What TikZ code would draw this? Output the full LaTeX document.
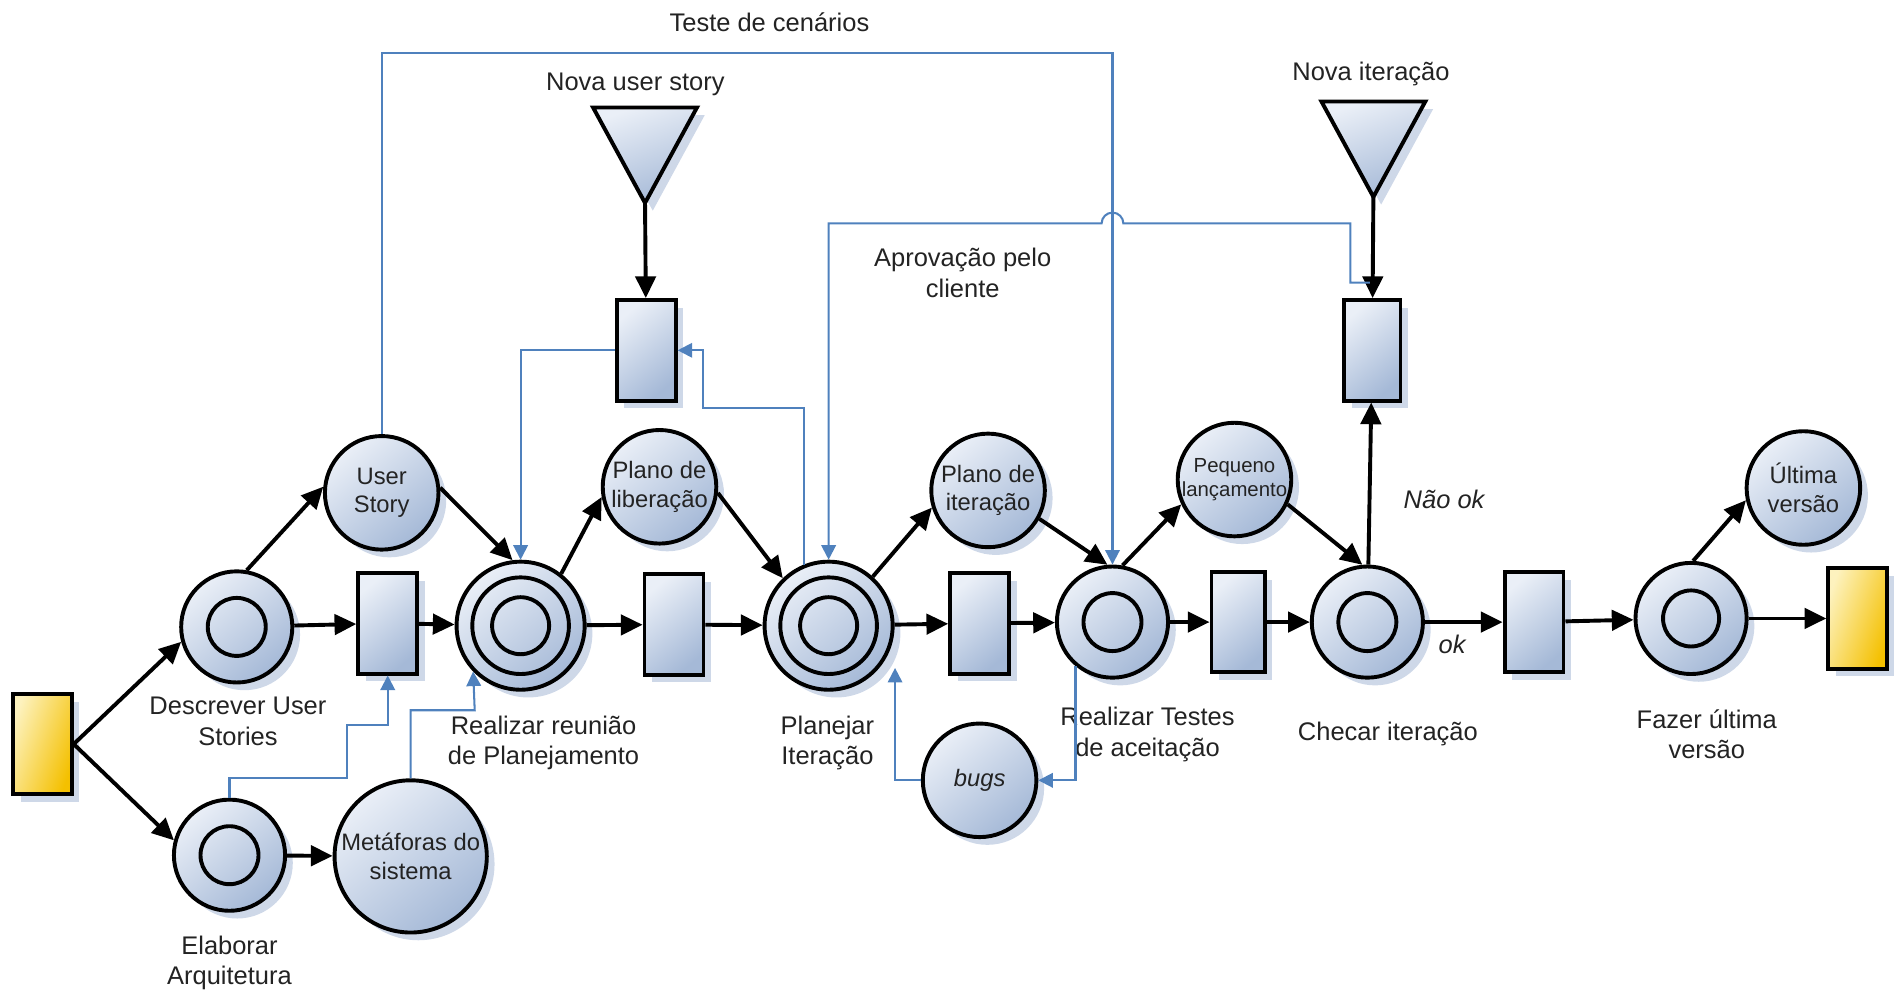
\documentclass[tikz,border=0pt]{standalone}
\usepackage{fontspec}
\setmainfont{Liberation Sans}
\usepackage{tikz}
\usetikzlibrary{arrows.meta,shadows}

\definecolor{lugartopo}{RGB}{234,239,247}
\definecolor{lugarbase}{RGB}{165,185,215}
\definecolor{sombraazul}{RGB}{206,216,232}
\definecolor{azulfluxo}{RGB}{79,129,189}
\definecolor{ourotopo}{RGB}{253,242,190}
\definecolor{ourobase}{RGB}{244,192,0}
\definecolor{textocinza}{RGB}{35,35,35}

\tikzset{
  every node/.style={font=\fontsize{15}{18}\selectfont, text=textocinza},
  sombra/.style={drop shadow={shadow xshift=0.16cm, shadow yshift=-0.16cm, fill=sombraazul, opacity=1}},
  lugar/.style={circle, draw=black, line width=2.3pt, minimum size=2.35cm, inner sep=-0.2cm, align=center,
    font=\fontsize{14}{17}\selectfont, top color=lugartopo, bottom color=lugarbase, shading angle=40, sombra},
  duplo/.style={lugar, minimum size=2.3cm},
  triplo/.style={lugar, minimum size=2.65cm},
  transicao/.style={rectangle, draw=black, line width=2.3pt, minimum width=1.22cm, minimum height=2.08cm,
    inner sep=0pt, top color=lugartopo, bottom color=lugarbase, shading angle=40, sombra},
  ficha/.style={transicao, top color=ourotopo, bottom color=ourobase, shading angle=70},
  gatilho/.style={draw=black, line width=2.3pt, top color=lugartopo, bottom color=lugarbase, shading angle=20, sombra},
  anel/.style={draw=black, line width=2.3pt},
  seta/.style={black, line width=2.3pt, -{Triangle[length=0.45cm,width=0.42cm]}},
  fluxo/.style={draw=azulfluxo, line width=1.2pt, -{Triangle[length=0.3cm,width=0.3cm]}},
  rotulo/.style={align=center},
  italico/.style={font=\fontsize{15}{18}\selectfont\itshape},
}

\begin{document}
\begin{tikzpicture}[x=0.025cm,y=-0.025cm]
\useasboundingbox (0,0) rectangle (1568,823);

% lugares e transicoes
\draw (35,616) node[ficha] (inicio) {};
\draw (196,519) node[duplo] (descrever) {};
\draw (190,708) node[duplo] (elaborar) {};
\draw (316,408) node[lugar] (userstory) {User\\Story};
\draw (340,709) node[lugar,minimum size=3.15cm] (metaforas) {Metáforas do\\sistema};
\draw (321,516) node[transicao] (t1) {};
\draw (431,518) node[triplo] (reuniao) {};
\draw (546,403) node[lugar] (liberacao) {Plano de\\liberação};
\draw (558,517) node[transicao] (t2) {};
\draw (535,290) node[transicao] (tnovaus) {};
\draw (686,518) node[triplo] (planejar) {};
\draw (818,406) node[lugar] (planoit) {Plano de\\iteração};
\draw (811,516) node[transicao] (t3) {};
\draw (921,515) node[duplo] (testes) {};
\draw (811,646) node[lugar] (bugs) {\itshape bugs};
\draw (1022,397) node[lugar,font=\fontsize{12}{14.5}\selectfont] (pequeno) {Pequeno\\lançamento};
\draw (1025,515) node[transicao,minimum width=1.1cm] (t4) {};
\draw (1132,515) node[duplo] (checar) {};
\draw (1136,290) node[transicao,minimum width=1.17cm] (tnovait) {};
\draw (1270,515) node[transicao] (t5) {};
\draw (1400,512) node[duplo] (fazer) {};
\draw (1493,404) node[lugar] (ultima) {Última\\versão};
\draw (1538,512) node[ficha] (fim) {};

% aneis internos
\draw[anel] (descrever) circle (0.6cm);
\draw[anel] (elaborar) circle (0.6cm);
\draw[anel] (reuniao) circle (1cm);
\draw[anel] (reuniao) circle (0.59cm);
\draw[anel] (planejar) circle (1cm);
\draw[anel] (planejar) circle (0.59cm);
\draw[anel] (testes) circle (0.6cm);
\draw[anel] (checar) circle (0.6cm);
\draw[anel] (fazer) circle (0.58cm);

% gatilhos
\draw[gatilho] (491,89) -- (577,89) -- (534,168) -- cycle;
\coordinate (pontaus) at (534,168);
\draw (526,70) node (novaus) {Nova user story};
\draw[gatilho] (1094,84) -- (1180,84) -- (1137,163) -- cycle;
\coordinate (pontait) at (1137,163);
\draw (1135,61) node (novait) {Nova iteração};

% rotulos
\draw (197,597) node[rotulo] (rdescrever) {Descrever User\\Stories};
\draw (190,797) node[rotulo] (relaborar) {Elaborar\\Arquitetura};
\draw (450,615) node[rotulo] (rreuniao) {Realizar reunião\\de Planejamento};
\draw (685,615) node[rotulo] (rplanejar) {Planejar\\Iteração};
\draw (950,608) node[rotulo] (rtestes) {Realizar Testes\\de aceitação};
\draw (1149,608) node[rotulo] (rchecar) {Checar iteração};
\draw (1413,608) node[rotulo] (rfazer) {Fazer última\\versão};
\draw (797,226) node[rotulo] (raprovacao) {Aprovação pelo\\cliente};
\draw (637,18) node (rcenarios) {Teste de cenários};

% arcos
\path[seta] (inicio.east) edge (descrever.195);
\path[seta] (inicio.east) edge (elaborar.165);
\path[seta] (descrever.80) edge (userstory.174);
\path[seta] (descrever) edge (t1);
\path[seta] (userstory.5) edge (reuniao.97);
\path[seta] (t1) edge (reuniao);
\path[seta] (elaborar) edge (metaforas);
\path[seta] (reuniao.52) edge (liberacao.190);
\path[seta] (reuniao) edge (t2);
\path[seta] (liberacao.-6) edge (planejar.134);
\path[seta] (t2) edge (planejar);
\path[seta] (pontaus) edge (tnovaus);
\path[seta] (planejar.48) edge (planoit.197);
\path[seta] (planejar) edge (t3);
\path[seta] (planoit.-29) edge (testes.95);
\path[seta] (t3) edge (testes);
\path[seta] (testes.80) edge (pequeno.205);
\path[seta] (testes) edge (t4);
\path[seta] (pequeno.-25) edge (checar.95);
\path[seta] (t4) edge (checar);
\path[seta] (checar) edge node[pos=0.4, right=0.55cm, italico] (naook) {Não ok} (tnovait);
\path[seta] (pontait) edge (tnovait);
\path[seta] (checar) edge node[pos=0.35, below=0.12cm, italico] (ok) {ok} (t5);
\path[seta] (t5) edge (fazer);
\path[seta] (fazer.88) edge (ultima.192);
\path[seta] (fazer) edge (fim);

% fluxos azuis
\coordinate (cantocen) at (921,44);
\draw[fluxo] (userstory.north) |- (cantocen) -- (testes.north);
\draw[fluxo] (tnovaus.west) -| (reuniao.north);
\draw[fluxo] (planejar.112) |- (582,338) |- (tnovaus.east);
\coordinate (juncao) at (1134,234);
\draw[fluxo] (juncao) -- (1118,234) |- (930,185) arc[start angle=0, end angle=180, radius=0.225cm] -| (planejar.north);
\draw[fluxo] (elaborar.north) |- (287,644) -- (287,600) -| (t1.south);
\coordinate (joelho) at (393,588);
\draw[fluxo] (metaforas.north) |- (joelho) -- (reuniao.-136);
\draw[fluxo] (testes.-130) |- (bugs.east);
\coordinate (retorno) at (741,553);
\draw[fluxo] (bugs.west) -| (retorno);

\end{tikzpicture}
\end{document}
